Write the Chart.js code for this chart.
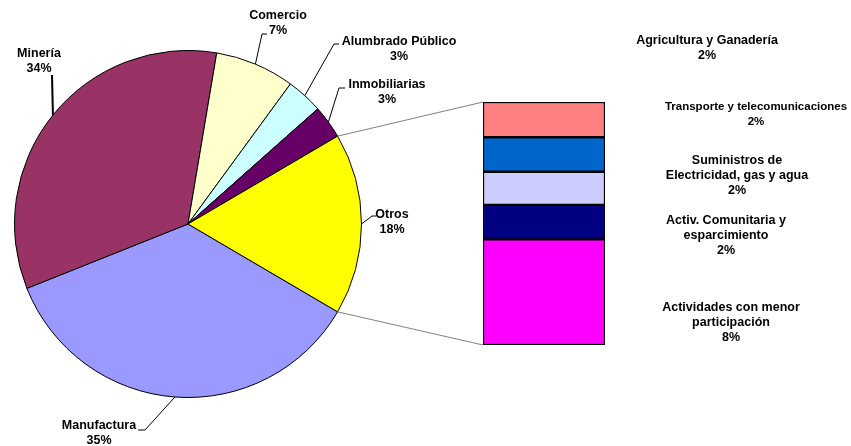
<!DOCTYPE html>
<html>
<head>
<meta charset="utf-8">
<script src="https://cdn.jsdelivr.net/npm/chart.js@4.4.1/dist/chart.umd.min.js"></script>
<style>
  body { margin: 0; background: #fff; }
  #wrap { position: relative; width: 851px; height: 446px; }
  #pieChart { position: absolute; left: 0; top: 0; }
  #barChart { position: absolute; left: 478px; top: 97px; }
</style>
</head>
<body>
<div id="wrap">
  <canvas id="pieChart" width="851" height="446"></canvas>
  <canvas id="barChart" width="132" height="253"></canvas>
</div>
<script>
// Pie (clockwise from Manufactura)
const pieLabels = ['Manufactura', 'Minería', 'Comercio', 'Alumbrado Público', 'Inmobiliarias', 'Otros'];
const pieValues = [35.5, 33.7, 7.4, 3.4, 3.1, 16.9];
const piePct = ['35%', '34%', '7%', '3%', '3%', '18%'];
const pieColors = ['#9999FF', '#993366', '#FFFFCC', '#CCFFFF', '#660066', '#FFFF00'];

// Bar of "Otros" (top to bottom)
const barLabels = [
    ['Agricultura y Ganadería'],
    ['Transporte y telecomunicaciones'],
    ['Suministros de', 'Electricidad, gas y agua'],
    ['Activ. Comunitaria y', 'esparcimiento'],
    ['Actividades con menor', 'participación']
];
const barValues = [2.45, 2.4, 2.3, 2.4, 7.35];
const barPct = ['2%', '2%', '2%', '2%', '8%'];
const barColors = ['#FF8080', '#0066CC', '#CCCCFF', '#000080', '#FF00FF'];

const FONT = '"Liberation Sans", Arial, sans-serif';

// label placement (text centre, elbow of leader, end of the small tick)
const pieLabelPos = [
    { x: 99, y: 426, elbow: [145, 430], tick: [138, 430] },
    { x: 39, y: 54, elbow: [52, 75], tick: null, lw: 2 },
    { x: 278, y: 16, elbow: [262, 34], tick: [267, 34] },
    { x: 399, y: 42, elbow: [334, 44], tick: [339, 44] },
    { x: 387, y: 85, elbow: [339, 88], tick: [345, 88] },
    { x: 392, y: 215, elbow: [372, 216], tick: [376, 216] }
];
const barLabelPos = [
    { x: 707, y: 41, size: 12.5 },
    { x: 756, y: 107, size: 11.5 },
    { x: 737, y: 161, size: 12.5 },
    { x: 726, y: 221, size: 12.5 },
    { x: 731, y: 308, size: 12.5 }
];

function drawLines(ctx, lines, x, y, size) {
    ctx.font = 'bold ' + size + 'px ' + FONT;
    ctx.fillStyle = '#000';
    ctx.textAlign = 'center';
    ctx.textBaseline = 'middle';
    lines.forEach((line, i) => ctx.fillText(line, x, y + i * 14.7));
}

// --- bar chart (stacked, bottom dataset first) ---
const barTotal = barValues.reduce((a, b) => a + b, 0);
const barDatasets = barValues.map((v, i) => ({
    label: barLabels[i].join(' '),
    data: [v],
    backgroundColor: barColors[i],
    borderColor: '#000',
    borderWidth: 1.5,
    borderSkipped: false,
    barPercentage: 1,
    categoryPercentage: 1
})).reverse();

const barChart = new Chart(document.getElementById('barChart'), {
    type: 'bar',
    data: { labels: [''], datasets: barDatasets },
    options: {
        responsive: false,
        animation: false,
        layout: { padding: 5 },
        plugins: { legend: { display: false }, tooltip: { enabled: false } },
        scales: {
            x: { stacked: true, display: false },
            y: { stacked: true, display: false, min: 0, max: barTotal }
        }
    }
});

// --- labels, leaders and connector lines on the pie canvas ---
const pieDecor = {
    id: 'pieDecor',
    afterDraw(chart) {
        const ctx = chart.ctx;
        const arcs = chart.getDatasetMeta(0).data;
        ctx.save();

        // connectors from "Otros" to the bar
        const otros = arcs[arcs.length - 1];
        const area = barChart.chartArea;
        const bx = 478 + area.left, byTop = 97 + area.top, byBot = 97 + area.bottom;
        ctx.strokeStyle = '#808080';
        ctx.lineWidth = 1;
        [[otros.startAngle, byTop], [otros.endAngle, byBot]].forEach(([a, by]) => {
            ctx.beginPath();
            ctx.moveTo(otros.x + otros.outerRadius * Math.cos(a), otros.y + otros.outerRadius * Math.sin(a));
            ctx.lineTo(bx, by);
            ctx.stroke();
        });

        // pie labels with leader lines
        arcs.forEach((arc, i) => {
            const pos = pieLabelPos[i];
            const mid = (arc.startAngle + arc.endAngle) / 2;
            ctx.strokeStyle = '#000';
            ctx.lineWidth = pos.lw || 1;
            ctx.beginPath();
            ctx.moveTo(arc.x + arc.outerRadius * Math.cos(mid), arc.y + arc.outerRadius * Math.sin(mid));
            ctx.lineTo(pos.elbow[0], pos.elbow[1]);
            if (pos.tick) ctx.lineTo(pos.tick[0], pos.tick[1]);
            ctx.stroke();
            drawLines(ctx, [pieLabels[i], piePct[i]], pos.x, pos.y, 12.5);
        });

        // bar labels
        barLabels.forEach((lines, i) => {
            const pos = barLabelPos[i];
            drawLines(ctx, lines.concat([barPct[i]]), pos.x, pos.y, pos.size);
        });
        ctx.restore();
    }
};

new Chart(document.getElementById('pieChart'), {
    type: 'pie',
    data: {
        labels: pieLabels,
        datasets: [{
            data: pieValues,
            backgroundColor: pieColors,
            borderColor: '#000',
            borderWidth: 1
        }]
    },
    options: {
        responsive: false,
        animation: false,
        // keep "Otros" centred on the horizontal, facing the bar
        rotation: 90 + pieValues[pieValues.length - 1] * 3.6 / 2,
        layout: { padding: { left: 14, top: 50, right: 489, bottom: 48 } },
        plugins: { legend: { display: false }, tooltip: { enabled: false } }
    },
    plugins: [pieDecor]
});
</script>
</body>
</html>
